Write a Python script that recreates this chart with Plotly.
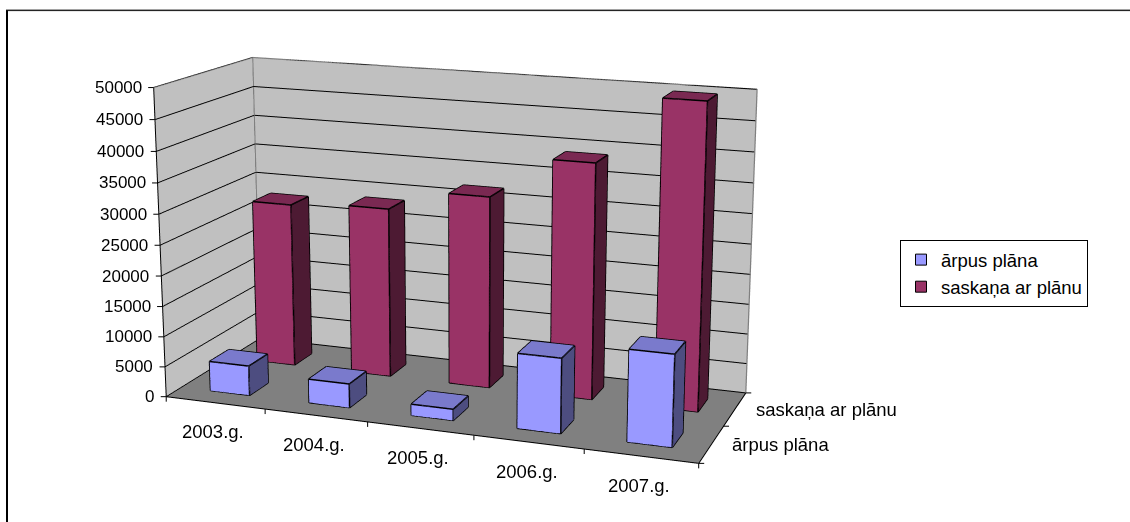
import plotly.graph_objects as go

categories = ["2003.g.", "2004.g.", "2005.g.", "2006.g.", "2007.g."]
series_names = ["ārpus plāna", "saskaņa ar plānu"]
arpus_plana = [4950, 3950, 1850, 12050, 14600]
saskana_ar_planu = [27750, 28500, 31950, 38800, 49700]
z_ticks = list(range(0, 50001, 5000))

W, H = 1130, 522
# A taller figure gives the long-lens 3D view of the original; the page is shifted so the chart fills the window.
HF = 1500
OFFSET = 544.1

eye = dict(x=2.8271, y=-7.4288, z=2.0664)
center = dict(x=0.4413, y=0.1982, z=0.1726)
up = dict(x=-0.0808, y=0.2163, z=0.9730)
aspect = dict(x=2.5, y=0.9426, z=1.4320)


def py(y):
    return 1 - (y + OFFSET) / HF


BAR = 0.4
colors = [("#9999FF", "#7A7ACC", "#4D4D80"), ("#993366", "#7A2952", "#4D1A33")]
x_range = [0, len(categories)]
y_range = [0, len(series_names)]
z_range = [0, z_ticks[-1]]


def cuboid(i, j, v):
    x0, x1 = i + (1 - BAR) / 2, i + (1 + BAR) / 2
    y0, y1 = j + (1 - BAR) / 2, j + (1 + BAR) / 2
    return [x0, x1, x1, x0, x0, x1, x1, x0], [y0, y0, y1, y1, y0, y0, y1, y1], [0, 0, 0, 0, v, v, v, v]


faces = [(0, 1, 5), (0, 5, 4), (1, 2, 6), (1, 6, 5), (4, 5, 6), (4, 6, 7), (2, 3, 7), (2, 7, 6), (3, 0, 4), (3, 4, 7), (0, 2, 1), (0, 3, 2)]
edges = [(0, 1), (1, 2), (2, 3), (3, 0), (4, 5), (5, 6), (6, 7), (7, 4), (0, 4), (1, 5), (2, 6), (3, 7)]

fig = go.Figure()
for j, (name, vals) in enumerate(zip(series_names, [arpus_plana, saskana_ar_planu])):
    front, top, side = colors[j]
    fc = [front, front, side, side, top, top, side, side, side, side, side, side]
    for i, v in enumerate(vals):
        xs, ys, zs = cuboid(i, j, v)
        fig.add_trace(go.Mesh3d(x=xs, y=ys, z=zs,
                                i=[f[0] for f in faces], j=[f[1] for f in faces], k=[f[2] for f in faces],
                                facecolor=fc, flatshading=True, hoverinfo="skip", showscale=False,
                                lighting=dict(ambient=1, diffuse=0, specular=0, roughness=1, fresnel=0)))
        lx, ly, lz = [], [], []
        for a, b in edges:
            lx += [xs[a], xs[b], None]
            ly += [ys[a], ys[b], None]
            lz += [zs[a], zs[b], None]
        fig.add_trace(go.Scatter3d(x=lx, y=ly, z=lz, mode="lines", line=dict(color="black", width=3),
                                   hoverinfo="skip", showlegend=False))
    fig.add_trace(go.Scatter3d(x=[None], y=[None], z=[None], mode="markers", name=name, hoverinfo="skip",
                               marker=dict(symbol="square", size=11, color=front, line=dict(color="black", width=1))))

X0, X1, Y0, Y1, Z0, Z1 = x_range[0], x_range[1], y_range[0], y_range[1], z_range[0], z_range[1]
fig.add_trace(go.Scatter3d(
    x=[X0, X0, X1, X1, None, X0, X0], y=[Y0, Y1, Y1, Y1, None, Y1, Y1], z=[Z1, Z1, Z1, Z0, None, Z0, Z1],
    mode="lines", line=dict(color="#808080", width=2.5), hoverinfo="skip", showlegend=False))
fig.add_trace(go.Scatter3d(
    x=[X0, X0, X1, X1], y=[Y0, Y0, Y0, Y1], z=[Z1, Z0, Z0, Z0],
    mode="lines", line=dict(color="black", width=2), hoverinfo="skip", showlegend=False))

NUM = dict(family="Liberation Sans, Arial, sans-serif", size=17, color="black")
TXT = dict(family="Liberation Sans, Arial, sans-serif", size=18.5, color="black")
TICK = dict(size=1, color="black")


def tick(x, y, z, ax, ay):
    return dict(x=x, y=y, z=z, text=" ", font=TICK, showarrow=True, arrowhead=0, arrowwidth=1, arrowcolor="black",
                ax=ax, ay=ay, standoff=0, startstandoff=0)


ann = []
for t in z_ticks:
    zv = min(t, Z1 * 0.9999)
    ann.append(dict(x=X0, y=Y0, z=zv, text=str(t), showarrow=False, xanchor="right", yanchor="middle", xshift=-10, font=NUM))
    ann.append(tick(X0, Y0, zv, -7, 0))
for i, c in enumerate(categories):
    ann.append(dict(x=i + 0.5, y=Y0, z=Z0, text=c, showarrow=False, xanchor="center", yanchor="middle", xshift=-2, yshift=-29, font=TXT))
for i in range(len(categories) + 1):
    ann.append(tick(min(i, X1 * 0.9999), Y0, Z0, 0, 7))
for j, s in enumerate(series_names):
    ann.append(dict(x=X1 * 0.9999, y=j + 0.5, z=Z0, text=s, showarrow=False, xanchor="left", yanchor="middle", xshift=19, yshift=0, font=TXT))
for j in range(len(series_names) + 1):
    ann.append(tick(X1 * 0.9999, min(j, Y1 * 0.9999), Z0, 7, 0))


def axis(rng, **kw):
    return dict(range=rng, showticklabels=False, ticks="", showline=False, showspikes=False, title=dict(text=""),
                zeroline=False, showbackground=True, **kw)


fig.update_layout(
    width=W, height=HF, margin=dict(l=0, r=0, t=0, b=0), paper_bgcolor="white",
    scene=dict(
        domain=dict(x=[0, 1], y=[0, 1]),
        xaxis=axis(x_range, showgrid=False, backgroundcolor="#C0C0C0"),
        yaxis=axis(y_range, showgrid=False, backgroundcolor="#C0C0C0"),
        zaxis=axis(z_range, tickvals=z_ticks, showgrid=True, gridcolor="black", gridwidth=2, backgroundcolor="#808080"),
        aspectmode="manual", aspectratio=aspect,
        camera=dict(eye=eye, center=center, up=up, projection=dict(type="perspective")),
        annotations=ann, dragmode=False),
    legend=dict(x=900 / W, y=py(240), xanchor="left", yanchor="top", bgcolor="white", bordercolor="black", borderwidth=1,
                font=TXT, itemclick=False, itemdoubleclick=False),
    shapes=[dict(type="line", xref="paper", yref="paper", x0=7 / W, x1=7 / W, y0=0, y1=py(10), line=dict(color="black", width=2)),
            dict(type="line", xref="paper", yref="paper", x0=6 / W, x1=1, y0=py(10.5), y1=py(10.5), line=dict(color="black", width=1)),
            dict(type="line", xref="paper", yref="paper", x0=6 / W, x1=1, y0=py(9.5), y1=py(9.5), line=dict(color="#999999", width=1))],
    showlegend=True)
fig.write_html("out.html", config=dict(displayModeBar=False),
               post_script=f"document.documentElement.style.overflow='hidden';document.body.style.overflow='hidden';document.body.style.margin='{-OFFSET}px 0 0 0';")
